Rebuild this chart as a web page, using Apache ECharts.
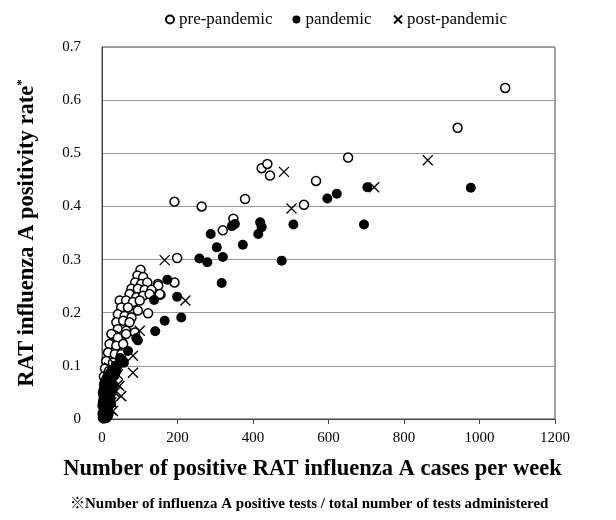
<!DOCTYPE html>
<html>
<head>
<meta charset="utf-8">
<script src="https://cdn.jsdelivr.net/npm/echarts@6/dist/echarts.min.js"></script>
<style>
  html, body { margin: 0; padding: 0; background: #fff; }
  #chart { width: 616px; height: 520px; }
</style>
</head>
<body>
<div id="chart"></div>
<script>
// pre-pandemic (open circles)
const preX = [1068, 942, 652, 567, 535, 423, 438, 445, 379, 192, 264, 348, 320, 199, 192, 102, 94, 109, 88, 104,
  120, 148, 155, 149, 78, 95, 113, 131, 153, 73, 91, 109, 126, 47, 64, 82, 100, 51, 69, 95,
  122, 42, 60, 78, 38, 56, 73, 42, 64, 87, 34, 56, 25, 42, 64, 20, 38, 56, 16, 34,
  51, 11, 29, 8, 18, 5, 12]
const preY = [0.623, 0.548, 0.492, 0.448, 0.403, 0.472, 0.48, 0.458, 0.414, 0.409, 0.40, 0.377, 0.355, 0.303, 0.257, 0.281, 0.27, 0.267, 0.257, 0.254,
  0.257, 0.254, 0.234, 0.251, 0.245, 0.245, 0.243, 0.243, 0.235, 0.235, 0.229, 0.232, 0.235, 0.223, 0.223, 0.22, 0.223, 0.21, 0.21, 0.204,
  0.199, 0.197, 0.194, 0.191, 0.182, 0.185, 0.182, 0.169, 0.166, 0.163, 0.157, 0.157, 0.16, 0.153, 0.16, 0.141, 0.138, 0.141, 0.125, 0.122,
  0.122, 0.109, 0.106, 0.095, 0.09, 0.08, 0.07]

// pandemic (filled circles)
const panX = [977, 703, 694, 622, 597, 507, 476, 419, 423, 414, 344, 352, 288, 304, 373, 258, 279, 320, 317, 173,
  138, 199, 166, 210, 141, 91, 95, 69, 58, 56,
  2, 3, 4, 5, 6, 7, 8, 9, 10, 11, 12, 13, 14, 15, 16, 17, 18, 19, 20, 21,
  22, 24, 26, 28, 30, 33, 36, 40, 1, 2, 3, 4, 5, 6, 7, 8, 9, 10, 12, 14,
  16, 18, 20, 23, 25, 1, 3, 6, 11, 15, 2, 4, 8, 45, 48,
  22, 26, 30, 18, 24, 28, 34, 38, 12, 16]
const panY = [0.435, 0.436, 0.366, 0.424, 0.415, 0.366, 0.298, 0.37, 0.361, 0.348, 0.363, 0.367, 0.348, 0.323, 0.328, 0.302, 0.295, 0.305, 0.256, 0.262,
  0.224, 0.23, 0.185, 0.191, 0.165, 0.152, 0.148, 0.128, 0.106, 0.109,
  0.002, 0.008, 0.015, 0.005, 0.022, 0.03, 0.012, 0.04, 0.025, 0.05, 0.035, 0.06, 0.045, 0.068, 0.02, 0.055, 0.075, 0.062, 0.08, 0.07,
  0.085, 0.078, 0.088, 0.092, 0.09, 0.095, 0.1, 0.098, 0.01, 0.03, 0.045, 0.055, 0.065, 0.005, 0.07, 0.052, 0.018, 0.058, 0.01, 0.028,
  0.038, 0.048, 0.06, 0.066, 0.072, 0.025, 0.035, 0.042, 0.075, 0.082, 0.05, 0.001, 0.001, 0.105, 0.115,
  0.04, 0.05, 0.065, 0.01, 0.03, 0.08, 0.082, 0.09, 0.002, 0.006]

// post-pandemic (crosses)
const postX = [863, 721, 502, 482, 221, 166, 100, 82, 82, 51, 42, 38, 34, 29, 25, 19, 42, 46, 50, 24, 34, 30, 15, 10, 20]
const postY = [0.487, 0.436, 0.396, 0.465, 0.223, 0.299, 0.166, 0.119, 0.087, 0.043, 0.065, 0.097, 0.05, 0.015, 0.031, 0.097, 0.084, 0.062, 0.043, 0.018, 0.103, 0.075, 0.04, 0.02, 0.055]

const seriesNames = ['pre-pandemic', 'pandemic', 'post-pandemic']

const zip = (xs, ys) => xs.map((x, i) => [x, ys[i]])

const serif = '"Liberation Serif", "DejaVu Serif", "Noto Sans CJK JP", serif'
const crossPath = 'path://M0,0L10,10M10,0L0,10'

const chart = echarts.init(document.getElementById('chart'))

const option = {
  animation: false,
  textStyle: { fontFamily: serif, color: '#000' },
  legend: {
    top: 6,
    left: 160,
    itemWidth: 8,
    itemHeight: 8,
    itemGap: 20,
    textStyle: { fontFamily: serif, fontSize: 17, color: '#000' },
    data: seriesNames
  },
  grid: {
    left: 102,
    right: 61,
    top: 47,
    bottom: 101,
    show: true,
    borderColor: '#444',
    borderWidth: 1
  },
  xAxis: {
    type: 'value',
    min: 0,
    max: 1200,
    interval: 200,
    name: 'Number of positive RAT influenza A cases per week',
    nameLocation: 'middle',
    nameGap: 39,
    nameTextStyle: { fontFamily: serif, fontSize: 22.5, fontWeight: 'bold', color: '#000', padding: [0, 32, 0, 0] },
    axisLine: { lineStyle: { color: '#444' } },
    axisTick: { show: true, length: 5, lineStyle: { color: '#444' } },
    axisLabel: { fontFamily: serif, fontSize: 15, color: '#000', margin: 12, formatter: v => String(v) },
    splitLine: { show: false }
  },
  yAxis: {
    type: 'value',
    min: 0,
    max: 0.7,
    interval: 0.1,
    name: '{t|RAT influenza A positivity rate}{s|*}',
    nameLocation: 'middle',
    nameGap: 62,
    nameRotate: 90,
    nameTextStyle: {
      fontFamily: serif,
      color: '#000',
      rich: {
        t: { fontFamily: serif, fontSize: 22.5, fontWeight: 'bold', color: '#000' },
        s: { fontFamily: serif, fontSize: 13, fontWeight: 'bold', color: '#000', verticalAlign: 'top', padding: [0, 0, 12, 0] }
      }
    },
    axisLine: { show: true, lineStyle: { color: '#444' } },
    axisTick: { show: false },
    axisLabel: { fontFamily: serif, fontSize: 15, color: '#000', margin: 21 },
    splitLine: { show: true, lineStyle: { color: '#999', width: 1 } }
  },
  graphic: [
    {
      type: 'text',
      left: 70,
      top: 497,
      style: {
        text: '※Number of influenza A positive tests / total number of tests administered',
        fontFamily: serif,
        fontSize: 15,
        fontWeight: 'bold',
        fill: '#000'
      }
    }
  ],
  series: [
    {
      name: seriesNames[0],
      type: 'scatter',
      symbol: 'circle',
      symbolSize: 9,
      itemStyle: { color: '#fff', borderColor: '#000', borderWidth: 1.5, opacity: 1 },
      data: zip(preX, preY)
    },
    {
      name: seriesNames[1],
      type: 'scatter',
      symbol: 'circle',
      symbolSize: 10,
      itemStyle: { color: '#000', opacity: 1 },
      data: zip(panX, panY)
    },
    {
      name: seriesNames[2],
      type: 'scatter',
      symbol: crossPath,
      symbolSize: 10,
      itemStyle: { color: 'none', borderColor: '#000', borderWidth: 1.3, opacity: 1 },
      data: zip(postX, postY)
    }
  ]
}

chart.setOption(option)
</script>
</body>
</html>
